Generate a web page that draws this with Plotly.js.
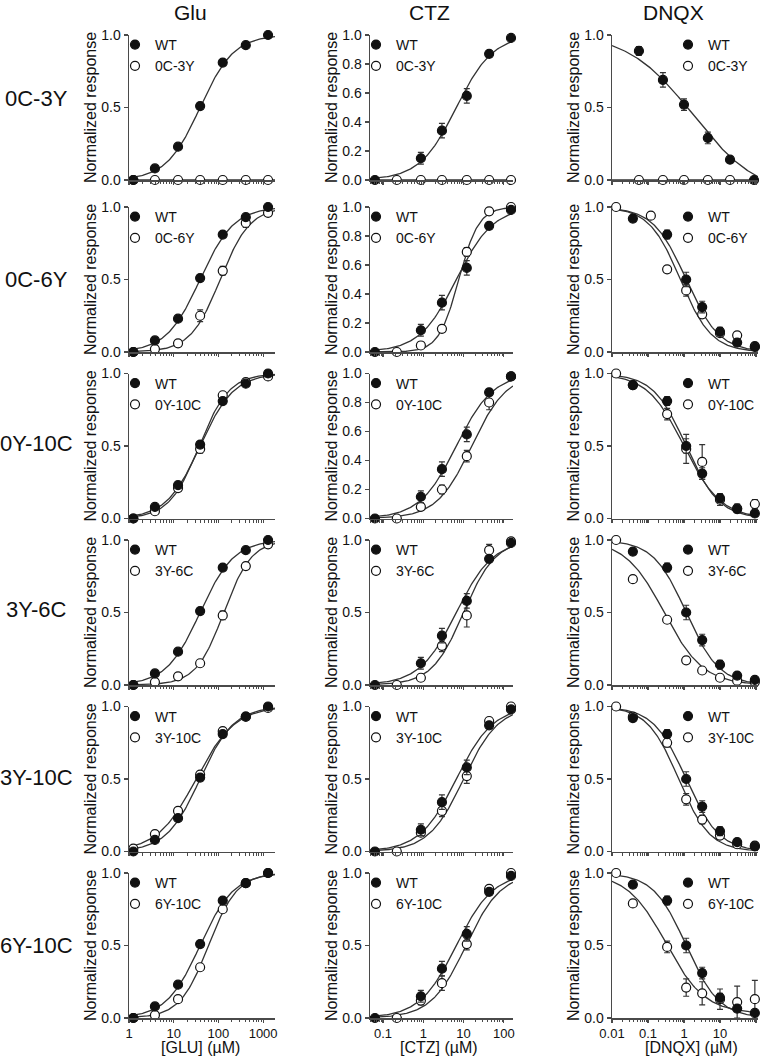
<!DOCTYPE html>
<html>
<head>
<meta charset="utf-8">
<script src="https://cdn.plot.ly/plotly-3.0.1.min.js"></script>
<style>
  html, body { margin: 0; padding: 0; background: #fff; }
  #chart { width: 762px; height: 1057px; }
</style>
</head>
<body>
<div id="chart"></div>
<script>
/* ==========================================
   DATA
========================================== */

const columns = ["Glu", "CTZ", "DNQX"];
const mutants = ["0C-3Y", "0C-6Y", "0Y-10C", "3Y-6C", "3Y-10C", "6Y-10C"];
const xTitles = ["[GLU] (µM)", "[CTZ] (µM)", "[DNQX] (µM)"];

// concentrations (µM)
const gluConc = [1.25, 3.8, 12.5, 39, 125, 410, 1290];
const ctzConcWT = [0.063, 0.87, 2.9, 12, 43, 150];
const ctzConcMut = [0.22, 0.87, 2.9, 12, 43, 150];
const dnqxConcTop = [0.056, 0.26, 1.0, 4.6, 19, 88];
const dnqxConcWT = [0.038, 0.34, 1.15, 3.2, 10, 30, 93];
const dnqxConcMut = [0.013, 0.038, 0.34, 1.15, 3.2, 10, 30, 93];
const dnqxConcMut2 = [0.013, 0.12, 0.34, 1.15, 3.2, 10, 30, 93];

// wild type
const gluWT = [0, 0.08, 0.23, 0.51, 0.81, 0.93, 1.0];
const gluWTErr = [0, 0, 0, 0, 0, 0, 0];
const ctzWT = [0, 0.15, 0.34, 0.58, 0.87, 0.98];
const ctzWTErr = [0, 0.04, 0.05, 0.05, 0.02, 0.01];
const dnqxWTTop = [0.89, 0.69, 0.52, 0.29, 0.14, 0.0];
const dnqxWTTopErr = [0.03, 0.05, 0.04, 0.04, 0.02, 0];
const dnqxWT = [0.92, 0.81, 0.5, 0.31, 0.14, 0.065, 0.035];
const dnqxWTErr = [0.02, 0.03, 0.05, 0.04, 0.03, 0.015, 0.01];

// mutants, one row per construct
const gluMut = [
  [0, 0, 0, 0, 0, 0, 0],
  [0, 0.02, 0.06, 0.25, 0.56, 0.89, 0.96],
  [0, 0.05, 0.21, 0.48, 0.85, 0.94, 0.98],
  [0, 0.02, 0.06, 0.15, 0.48, 0.82, 0.97],
  [0.02, 0.12, 0.28, 0.53, 0.83, 0.93, 0.99],
  [0, 0.02, 0.13, 0.35, 0.75, 0.93, 1.0]
];
const gluMutErr = [
  [0, 0, 0, 0, 0, 0, 0],
  [0, 0, 0, 0.04, 0.03, 0.03, 0],
  [0, 0, 0, 0.03, 0, 0, 0],
  [0, 0, 0, 0, 0.03, 0, 0],
  [0, 0, 0, 0, 0, 0, 0],
  [0, 0, 0, 0, 0, 0, 0]
];
const ctzMut = [
  [0, 0, 0, 0, 0, 0],
  [0, 0.045, 0.16, 0.69, 0.97, 1.0],
  [0, 0.08, 0.2, 0.43, 0.8, 0.98],
  [0, 0.05, 0.27, 0.48, 0.93, 0.99],
  [0, 0.13, 0.28, 0.52, 0.9, 1.0],
  [0, 0.12, 0.24, 0.51, 0.89, 1.0]
];
const ctzMutErr = [
  [0, 0, 0, 0, 0, 0],
  [0, 0, 0.02, 0.03, 0.01, 0],
  [0, 0.02, 0.03, 0.04, 0.05, 0.02],
  [0, 0.02, 0.04, 0.08, 0.04, 0.01],
  [0, 0.02, 0.04, 0.05, 0.02, 0.01],
  [0, 0.03, 0.05, 0.04, 0.02, 0.01]
];
const dnqxMut = [
  [0, 0, 0, 0, 0],
  [1.0, 0.94, 0.57, 0.425, 0.26, 0.13, 0.115, 0.04],
  [1.0, 0.92, 0.72, 0.48, 0.39, 0.13, 0.07, 0.1],
  [1.0, 0.73, 0.45, 0.17, 0.1, 0.05, 0.03, 0.02],
  [1.0, 0.93, 0.75, 0.36, 0.22, 0.11, 0.05, 0.04],
  [1.0, 0.79, 0.49, 0.21, 0.17, 0.13, 0.11, 0.13]
];
const dnqxMutErr = [
  [0, 0, 0, 0, 0],
  [0, 0.02, 0.02, 0.04, 0.02, 0.02, 0.02, 0.01],
  [0, 0.02, 0.04, 0.1, 0.12, 0.04, 0.03, 0.03],
  [0, 0.02, 0.02, 0.02, 0.02, 0.01, 0.01, 0.01],
  [0, 0.02, 0.03, 0.04, 0.03, 0.02, 0.02, 0.01],
  [0, 0.01, 0.04, 0.06, 0.08, 0.07, 0.11, 0.13]
];

// fitted curves: [low-concentration plateau, high-concentration plateau, log midpoint, slope]
const gluFitWT = [0, 1, 1.59, 1.15];
const gluFitMut = [[0, 0, 1, 1], [0, 1, 2.04, 1.3], [0, 1, 1.57, 1.3], [0, 1, 2.12, 1.4], [0, 1, 1.5, 1.0], [0, 1, 1.78, 1.35]];
const ctzFitWT = [0, 1, 0.82, 0.95];
const ctzFitMut = [[0, 0, 1, 1], [0, 1, 0.88, 1.75], [0, 1, 1.2, 1.0], [0, 1, 1.0, 1.1], [0, 1, 1.0, 1.0], [0, 1, 1.06, 1.0]];
const dnqxFitWTTop = [1.015, -0.115, 0.25, 0.476];
const dnqxFitWT = [1, 0, 0.06, 0.95];
const dnqxFitMut = [[0, 0, 0, 1], [1, 0, -0.1, 1.0], [1, 0, 0.0, 0.85], [1, 0, -0.55, 0.8], [1, 0, -0.15, 1.0], [1, 0.03, -0.5, 0.8]];

/* ==========================================
   LAYOUT GEOMETRY (pixels)
========================================== */

const W = 762, H = 1057;
const colLeft = [129, 370, 612];
const colRight = [275, 513, 758];
const xRanges = [[0, 3.266], [-1.323, 2.226], [-2, 2.056]];
const xTitleX = [200, 439, 691];
const rowTop = [35, 207, 373.5, 540, 706.5, 873];
const rowH = 145;
const rowLabelShift = [-9, 0, -3, -3, -2, 0];

const FONT = "Liberation Sans, Arial, Helvetica, sans-serif";
const INK = "#111";
const AXIS = "#4a4a4a";

function fx(p){ return p / W; }
function fy(p){ return 1 - p / H; }

function hill(p, lx){
  return p[0] + (p[1] - p[0]) / (1 + Math.pow(10, p[3] * (p[2] - lx)));
}

function curve(p, range, ax){
  const xs = [], ys = [];
  const n = 150;
  for(let i = 0; i <= n; i++){
    const lx = range[0] + (range[1] - range[0]) * i / n;
    xs.push(Math.pow(10, lx));
    ys.push(hill(p, lx));
  }
  return {
    x: xs, y: ys, xaxis: ax.x, yaxis: ax.y,
    mode: "lines", line: {color: "#333", width: 1.3},
    cliponaxis: false,
    showlegend: false, hoverinfo: "skip"
  };
}

function points(x, y, err, filled, name, ax, legendId, rank){
  return {
    x: x, y: y, xaxis: ax.x, yaxis: ax.y, name: name,
    legend: legendId, legendrank: rank,
    mode: "markers",
    cliponaxis: false,
    marker: {
      size: 9, symbol: "circle",
      color: filled ? INK : "#fff",
      line: {color: INK, width: 1.2}
    },
    error_y: {type: "data", array: err, visible: true, color: "#333", thickness: 1.2, width: 3}
  };
}

function minorVals(range){
  const v = [];
  for(let d = Math.floor(range[0]); d <= Math.ceil(range[1]); d++){
    for(let k = 2; k <= 9; k++){
      const lv = d + Math.log10(k);
      if(lv >= range[0] && lv <= range[1]) v.push(Math.pow(10, lv));
    }
  }
  return v;
}

function majorVals(range){
  const v = [];
  for(let d = Math.ceil(range[0] - 1e-9); d <= Math.floor(range[1]); d++) v.push(Math.pow(10, d));
  return v;
}

/* ==========================================
   BUILD
========================================== */

const traces = [];
const layout = {
  width: W, height: H,
  margin: {l: 0, r: 0, t: 0, b: 0},
  paper_bgcolor: "#fff", plot_bgcolor: "rgba(0,0,0,0)",
  font: {family: FONT, color: INK, size: 14},
  showlegend: true,
  annotations: []
};

for(let r = 0; r < 6; r++){
  for(let c = 0; c < 3; c++){
    const idx = r * 3 + c + 1;
    const sfx = idx === 1 ? "" : String(idx);
    const ax = {x: "x" + sfx, y: "y" + sfx};
    const legendId = "legend" + sfx;
    const range = xRanges[c];

    // axes
    const fineY = c === 1 && r < 3;
    layout["xaxis" + sfx] = {
      type: "log",
      domain: [fx(colLeft[c]), fx(colRight[c])],
      range: range,
      anchor: ax.y,
      showline: true, linecolor: AXIS, linewidth: 1.5,
      showgrid: false, zeroline: false,
      ticks: "outside", ticklen: 3, tickwidth: 1.2, tickcolor: AXIS,
      tickmode: "array", tickvals: majorVals(range),
      ticktext: majorVals(range).map(v => String(+v.toPrecision(1))),
      showticklabels: r === 5,
      ticklabelstandoff: 0,
      tickfont: {size: 13, color: INK},
      minor: {ticks: "outside", ticklen: 2.5, tickwidth: 1, tickcolor: AXIS, tickmode: "array", tickvals: minorVals(range), showgrid: false},
      title: {text: ""}
    };
    layout["yaxis" + sfx] = {
      domain: [fy(rowTop[r] + rowH), fy(rowTop[r])],
      range: [0, 1],
      anchor: ax.x,
      showline: true, linecolor: AXIS, linewidth: 1.5,
      showgrid: false, zeroline: false,
      ticks: "outside", ticklen: 4, tickwidth: 1.2, tickcolor: AXIS,
      tickmode: "array",
      tickvals: fineY ? [0, 0.2, 0.4, 0.6, 0.8, 1.0] : [0, 0.5, 1.0],
      tickformat: ".1f",
      tickfont: {size: 14, color: INK},
      title: {text: "Normalized response", font: {size: 16, color: INK}, standoff: 0}
    };

    // legend position
    const legX = c === 2 ? colLeft[c] + 56 : colLeft[c] - 14;
    layout[legendId] = {
      x: fx(legX), y: fy(rowTop[r] - 6), xanchor: "left", yanchor: "top",
      bgcolor: "rgba(0,0,0,0)", borderwidth: 0,
      font: {size: 14, family: FONT, color: INK},
      itemwidth: 30, tracegroupgap: 0, itemclick: false
    };

    // data per column
    let xW, yW, eW, xM, yM, eM, fitW, fitM;
    if(c === 0){
      xW = gluConc; yW = gluWT; eW = gluWTErr; fitW = gluFitWT;
      xM = gluConc; yM = gluMut[r]; eM = gluMutErr[r]; fitM = gluFitMut[r];
    } else if(c === 1){
      xW = ctzConcWT; yW = ctzWT; eW = ctzWTErr; fitW = ctzFitWT;
      xM = ctzConcMut; yM = ctzMut[r]; eM = ctzMutErr[r]; fitM = ctzFitMut[r];
    } else {
      if(r === 0){
        xW = dnqxConcTop; yW = dnqxWTTop; eW = dnqxWTTopErr; fitW = dnqxFitWTTop;
        xM = dnqxConcTop.slice(0, 5);
      } else {
        xW = dnqxConcWT; yW = dnqxWT; eW = dnqxWTErr; fitW = dnqxFitWT;
        xM = r === 1 ? dnqxConcMut2 : dnqxConcMut;
      }
      yM = dnqxMut[r]; eM = dnqxMutErr[r]; fitM = dnqxFitMut[r];
    }

    traces.push(curve(fitW, range, ax));
    traces.push(curve(fitM, range, ax));
    traces.push(points(xM, yM, eM, false, mutants[r], ax, legendId, 2));
    traces.push(points(xW, yW, eW, true, "WT", ax, legendId, 1));
  }

  // row label
  layout.annotations.push({
    text: mutants[r], xref: "paper", yref: "paper",
    x: fx(36), y: fy(rowTop[r] + rowH / 2 + rowLabelShift[r]), xanchor: "center", yanchor: "middle",
    showarrow: false, font: {size: 22, color: INK, family: FONT}
  });
}

// column titles
columns.forEach((t, c) => {
  layout.annotations.push({
    text: t, xref: "paper", yref: "paper",
    x: fx((colLeft[c] + colRight[c]) / 2 - 12), y: fy(12), xanchor: "center", yanchor: "middle",
    showarrow: false, font: {size: 21, color: INK, family: FONT}
  });
});

// x axis titles under the bottom row
xTitles.forEach((t, c) => {
  layout.annotations.push({
    text: t, xref: "paper", yref: "paper",
    x: fx(xTitleX[c]), y: 0, xanchor: "center", yanchor: "bottom",
    borderpad: 0,
    showarrow: false, font: {size: 16, color: INK, family: FONT}
  });
});

Plotly.newPlot("chart", traces, layout, {staticPlot: true});
</script>
</body>
</html>
